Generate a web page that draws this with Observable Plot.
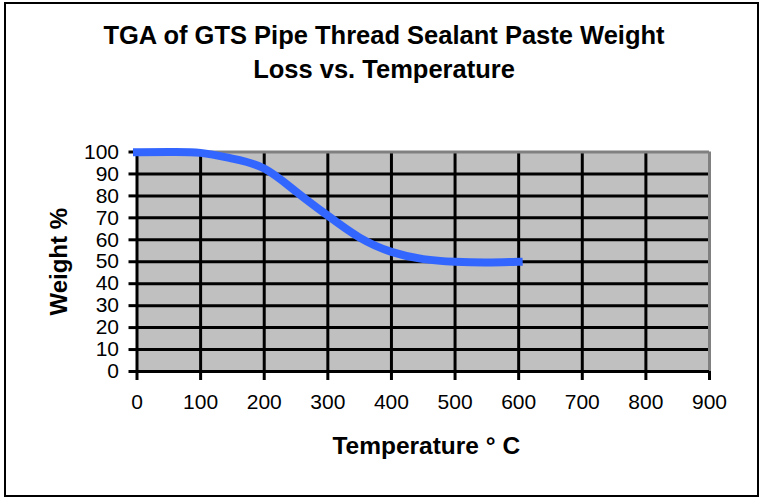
<!DOCTYPE html>
<html>
<head>
<meta charset="utf-8">
<script src="https://cdn.jsdelivr.net/npm/d3@7"></script>
<script src="https://cdn.jsdelivr.net/npm/@observablehq/plot@0.6"></script>
<style>
  html, body { margin: 0; padding: 0; background: #fff; }
  #wrap { position: relative; width: 760px; height: 499px; font-family: "Liberation Sans", Arial, sans-serif; }
  #title { position: relative; height: 100px; box-sizing: border-box; padding-top: 18px; padding-left: 8px;
           text-align: center; font-weight: bold; font-size: 25.5px; line-height: 34px; color: #000; }
  #border { position: absolute; left: 4px; top: 2px; width: 755px; height: 495px; border: 2px solid #000;
            box-sizing: border-box; pointer-events: none; }
  svg { display: block; }
</style>
</head>
<body>
<div id="wrap">
  <div id="title">TGA of GTS Pipe Thread Sealant Paste Weight<br>Loss vs. Temperature</div>
  <div id="chart"></div>
  <div id="border"></div>
</div>
<script>
// Data
const temperature = [0, 50, 100, 150, 200, 250, 300, 350, 400, 450, 500, 550, 600];
const weight      = [99.9, 100, 99.6, 97, 92.5, 82, 71, 61, 54.5, 51.2, 50, 49.7, 50];
const xTicks = [0, 100, 200, 300, 400, 500, 600, 700, 800, 900];
const yTicks = [0, 10, 20, 30, 40, 50, 60, 70, 80, 90, 100];
const xLabel = "Temperature ° C";
const yLabel = "Weight %";

const data = temperature.map((t, i) => ({t, w: weight[i]}));
const innerX = xTicks.filter(v => v > 0 && v < 900);
const innerY = yTicks.filter(v => v > 0 && v < 100);

const chart = Plot.plot({
  width: 760,
  height: 399,
  marginLeft: 136.5,
  marginRight: 51,
  marginTop: 51.5,
  marginBottom: 128,
  style: {fontFamily: "'Liberation Sans', Arial, sans-serif", fontSize: "21px", color: "#000", background: "transparent", overflow: "visible"},
  x: {domain: [0, 900]},
  y: {domain: [0, 100]},
  marks: [
    Plot.frame({fill: "#c0c0c0", stroke: null}),
    Plot.ruleY(innerY, {stroke: "#000", strokeWidth: 3}),
    Plot.ruleX(innerX, {stroke: "#000", strokeWidth: 3}),
    Plot.ruleY([100], {stroke: "#808080", strokeWidth: 3}),
    Plot.ruleX([900], {stroke: "#808080", strokeWidth: 3}),
    Plot.ruleY([0], {stroke: "#000", strokeWidth: 3}),
    Plot.ruleX([0], {stroke: "#000", strokeWidth: 3}),
    Plot.axisY({ticks: yTicks, tickSize: 8, tickPadding: 10, strokeWidth: 3, fontSize: 21, label: null, tickFormat: d => d}),
    Plot.axisX({ticks: xTicks, tickSize: 9, tickPadding: 14, strokeWidth: 3, fontSize: 21, label: null, tickFormat: d => d}),
    Plot.text([yLabel], {frameAnchor: "left", textAnchor: "middle", lineAnchor: "middle", rotate: -90, dx: -78, fontSize: 24, fontWeight: "bold", fill: "#000"}),
    Plot.text([xLabel], {frameAnchor: "bottom", textAnchor: "middle", lineAnchor: "middle", dx: 3, dy: 75, fontSize: 24.5, fontWeight: "bold", fill: "#000"}),
    Plot.line(data, {x: "t", y: "w", stroke: "#3366ff", strokeWidth: 8, curve: "natural", strokeLinecap: "square"})
  ]
});
document.getElementById("chart").appendChild(chart);
</script>
</body>
</html>
